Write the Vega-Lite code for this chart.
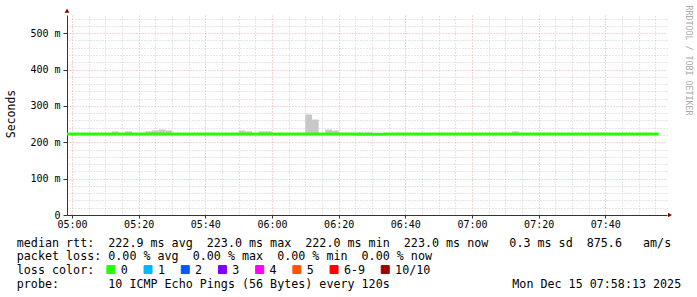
{
  "$schema": "https://vega.github.io/schema/vega-lite/v6.json",
  "width": 600,
  "height": 200,
  "autosize": "none",
  "padding": {"left": 67, "top": 15, "right": 30, "bottom": 82},
  "background": "white",
  "config": {"view": {"stroke": null}, "font": "DejaVu Sans Mono"},
  "datasets": {
    "rtt": [
      {"t": "2025-12-15T04:58:00Z", "rtt": 222.9, "loss": "0"},
      {"t": "2025-12-15T05:00:00Z", "rtt": 222.9, "loss": "0"},
      {"t": "2025-12-15T05:02:00Z", "rtt": 222.9, "loss": "0"},
      {"t": "2025-12-15T05:04:00Z", "rtt": 222.9, "loss": "0"},
      {"t": "2025-12-15T05:06:00Z", "rtt": 222.9, "loss": "0"},
      {"t": "2025-12-15T05:08:00Z", "rtt": 222.9, "loss": "0"},
      {"t": "2025-12-15T05:10:00Z", "rtt": 222.9, "loss": "0"},
      {"t": "2025-12-15T05:12:00Z", "rtt": 222.9, "loss": "0"},
      {"t": "2025-12-15T05:14:00Z", "rtt": 222.9, "loss": "0"},
      {"t": "2025-12-15T05:16:00Z", "rtt": 222.9, "loss": "0"},
      {"t": "2025-12-15T05:18:00Z", "rtt": 222.9, "loss": "0"},
      {"t": "2025-12-15T05:20:00Z", "rtt": 222.9, "loss": "0"},
      {"t": "2025-12-15T05:22:00Z", "rtt": 222.9, "loss": "0"},
      {"t": "2025-12-15T05:24:00Z", "rtt": 222.9, "loss": "0"},
      {"t": "2025-12-15T05:26:00Z", "rtt": 223.0, "loss": "0"},
      {"t": "2025-12-15T05:28:00Z", "rtt": 222.9, "loss": "0"},
      {"t": "2025-12-15T05:30:00Z", "rtt": 222.9, "loss": "0"},
      {"t": "2025-12-15T05:32:00Z", "rtt": 222.9, "loss": "0"},
      {"t": "2025-12-15T05:34:00Z", "rtt": 222.9, "loss": "0"},
      {"t": "2025-12-15T05:36:00Z", "rtt": 222.9, "loss": "0"},
      {"t": "2025-12-15T05:38:00Z", "rtt": 222.9, "loss": "0"},
      {"t": "2025-12-15T05:40:00Z", "rtt": 222.9, "loss": "0"},
      {"t": "2025-12-15T05:42:00Z", "rtt": 222.9, "loss": "0"},
      {"t": "2025-12-15T05:44:00Z", "rtt": 222.9, "loss": "0"},
      {"t": "2025-12-15T05:46:00Z", "rtt": 222.9, "loss": "0"},
      {"t": "2025-12-15T05:48:00Z", "rtt": 222.9, "loss": "0"},
      {"t": "2025-12-15T05:50:00Z", "rtt": 222.9, "loss": "0"},
      {"t": "2025-12-15T05:52:00Z", "rtt": 222.9, "loss": "0"},
      {"t": "2025-12-15T05:54:00Z", "rtt": 222.9, "loss": "0"},
      {"t": "2025-12-15T05:56:00Z", "rtt": 222.9, "loss": "0"},
      {"t": "2025-12-15T05:58:00Z", "rtt": 222.9, "loss": "0"},
      {"t": "2025-12-15T06:00:00Z", "rtt": 222.9, "loss": "0"},
      {"t": "2025-12-15T06:02:00Z", "rtt": 222.9, "loss": "0"},
      {"t": "2025-12-15T06:04:00Z", "rtt": 222.9, "loss": "0"},
      {"t": "2025-12-15T06:06:00Z", "rtt": 222.9, "loss": "0"},
      {"t": "2025-12-15T06:08:00Z", "rtt": 222.9, "loss": "0"},
      {"t": "2025-12-15T06:10:00Z", "rtt": 222.9, "loss": "0"},
      {"t": "2025-12-15T06:12:00Z", "rtt": 223.0, "loss": "0"},
      {"t": "2025-12-15T06:14:00Z", "rtt": 222.9, "loss": "0"},
      {"t": "2025-12-15T06:16:00Z", "rtt": 222.9, "loss": "0"},
      {"t": "2025-12-15T06:18:00Z", "rtt": 222.9, "loss": "0"},
      {"t": "2025-12-15T06:20:00Z", "rtt": 222.9, "loss": "0"},
      {"t": "2025-12-15T06:22:00Z", "rtt": 222.9, "loss": "0"},
      {"t": "2025-12-15T06:24:00Z", "rtt": 222.9, "loss": "0"},
      {"t": "2025-12-15T06:26:00Z", "rtt": 222.0, "loss": "0"},
      {"t": "2025-12-15T06:28:00Z", "rtt": 222.0, "loss": "0"},
      {"t": "2025-12-15T06:30:00Z", "rtt": 222.0, "loss": "0"},
      {"t": "2025-12-15T06:32:00Z", "rtt": 222.0, "loss": "0"},
      {"t": "2025-12-15T06:34:00Z", "rtt": 222.9, "loss": "0"},
      {"t": "2025-12-15T06:36:00Z", "rtt": 222.9, "loss": "0"},
      {"t": "2025-12-15T06:38:00Z", "rtt": 222.9, "loss": "0"},
      {"t": "2025-12-15T06:40:00Z", "rtt": 222.9, "loss": "0"},
      {"t": "2025-12-15T06:42:00Z", "rtt": 222.9, "loss": "0"},
      {"t": "2025-12-15T06:44:00Z", "rtt": 222.9, "loss": "0"},
      {"t": "2025-12-15T06:46:00Z", "rtt": 222.9, "loss": "0"},
      {"t": "2025-12-15T06:48:00Z", "rtt": 222.9, "loss": "0"},
      {"t": "2025-12-15T06:50:00Z", "rtt": 222.9, "loss": "0"},
      {"t": "2025-12-15T06:52:00Z", "rtt": 222.9, "loss": "0"},
      {"t": "2025-12-15T06:54:00Z", "rtt": 222.9, "loss": "0"},
      {"t": "2025-12-15T06:56:00Z", "rtt": 222.9, "loss": "0"},
      {"t": "2025-12-15T06:58:00Z", "rtt": 222.9, "loss": "0"},
      {"t": "2025-12-15T07:00:00Z", "rtt": 222.9, "loss": "0"},
      {"t": "2025-12-15T07:02:00Z", "rtt": 222.9, "loss": "0"},
      {"t": "2025-12-15T07:04:00Z", "rtt": 222.9, "loss": "0"},
      {"t": "2025-12-15T07:06:00Z", "rtt": 222.9, "loss": "0"},
      {"t": "2025-12-15T07:08:00Z", "rtt": 222.9, "loss": "0"},
      {"t": "2025-12-15T07:10:00Z", "rtt": 222.9, "loss": "0"},
      {"t": "2025-12-15T07:12:00Z", "rtt": 222.9, "loss": "0"},
      {"t": "2025-12-15T07:14:00Z", "rtt": 222.9, "loss": "0"},
      {"t": "2025-12-15T07:16:00Z", "rtt": 222.9, "loss": "0"},
      {"t": "2025-12-15T07:18:00Z", "rtt": 222.9, "loss": "0"},
      {"t": "2025-12-15T07:20:00Z", "rtt": 222.9, "loss": "0"},
      {"t": "2025-12-15T07:22:00Z", "rtt": 222.9, "loss": "0"},
      {"t": "2025-12-15T07:24:00Z", "rtt": 222.9, "loss": "0"},
      {"t": "2025-12-15T07:26:00Z", "rtt": 222.9, "loss": "0"},
      {"t": "2025-12-15T07:28:00Z", "rtt": 222.9, "loss": "0"},
      {"t": "2025-12-15T07:30:00Z", "rtt": 222.9, "loss": "0"},
      {"t": "2025-12-15T07:32:00Z", "rtt": 222.9, "loss": "0"},
      {"t": "2025-12-15T07:34:00Z", "rtt": 222.9, "loss": "0"},
      {"t": "2025-12-15T07:36:00Z", "rtt": 222.9, "loss": "0"},
      {"t": "2025-12-15T07:38:00Z", "rtt": 222.9, "loss": "0"},
      {"t": "2025-12-15T07:40:00Z", "rtt": 222.9, "loss": "0"},
      {"t": "2025-12-15T07:42:00Z", "rtt": 222.9, "loss": "0"},
      {"t": "2025-12-15T07:44:00Z", "rtt": 222.9, "loss": "0"},
      {"t": "2025-12-15T07:46:00Z", "rtt": 222.9, "loss": "0"},
      {"t": "2025-12-15T07:48:00Z", "rtt": 222.9, "loss": "0"},
      {"t": "2025-12-15T07:50:00Z", "rtt": 222.9, "loss": "0"},
      {"t": "2025-12-15T07:52:00Z", "rtt": 222.9, "loss": "0"},
      {"t": "2025-12-15T07:54:00Z", "rtt": 223.0, "loss": "0"},
      {"t": "2025-12-15T07:56:00Z", "rtt": 223.0, "loss": "0"}
    ],
    "smoke": [
      {"t": "2025-12-15T05:12:00Z", "t2": "2025-12-15T05:14:00Z", "lo": 222, "hi": 230, "band": "inner"},
      {"t": "2025-12-15T05:16:00Z", "t2": "2025-12-15T05:18:00Z", "lo": 222, "hi": 230, "band": "inner"},
      {"t": "2025-12-15T05:22:00Z", "t2": "2025-12-15T05:24:00Z", "lo": 222, "hi": 230, "band": "inner"},
      {"t": "2025-12-15T05:24:00Z", "t2": "2025-12-15T05:26:00Z", "lo": 222, "hi": 232.5, "band": "inner"},
      {"t": "2025-12-15T05:26:00Z", "t2": "2025-12-15T05:28:00Z", "lo": 222, "hi": 235, "band": "inner"},
      {"t": "2025-12-15T05:28:00Z", "t2": "2025-12-15T05:30:00Z", "lo": 222, "hi": 232.5, "band": "inner"},
      {"t": "2025-12-15T05:50:00Z", "t2": "2025-12-15T05:52:00Z", "lo": 222, "hi": 232.5, "band": "inner"},
      {"t": "2025-12-15T05:52:00Z", "t2": "2025-12-15T05:54:00Z", "lo": 222, "hi": 230, "band": "inner"},
      {"t": "2025-12-15T05:56:00Z", "t2": "2025-12-15T05:58:00Z", "lo": 222, "hi": 230, "band": "inner"},
      {"t": "2025-12-15T05:58:00Z", "t2": "2025-12-15T06:00:00Z", "lo": 222, "hi": 230, "band": "inner"},
      {"t": "2025-12-15T06:10:00Z", "t2": "2025-12-15T06:12:00Z", "lo": 222, "hi": 276.5, "band": "inner"},
      {"t": "2025-12-15T06:12:00Z", "t2": "2025-12-15T06:14:00Z", "lo": 222, "hi": 262.5, "band": "inner"},
      {"t": "2025-12-15T06:16:00Z", "t2": "2025-12-15T06:18:00Z", "lo": 222, "hi": 235, "band": "inner"},
      {"t": "2025-12-15T06:18:00Z", "t2": "2025-12-15T06:20:00Z", "lo": 222, "hi": 232.5, "band": "inner"},
      {"t": "2025-12-15T06:26:00Z", "t2": "2025-12-15T06:28:00Z", "lo": 221, "hi": 229, "band": "outer"},
      {"t": "2025-12-15T06:28:00Z", "t2": "2025-12-15T06:30:00Z", "lo": 221, "hi": 229, "band": "outer"},
      {"t": "2025-12-15T07:12:00Z", "t2": "2025-12-15T07:14:00Z", "lo": 222, "hi": 230, "band": "inner"}
    ]
  },
  "layer": [
    {
      "data": {"name": "smoke"},
      "mark": {"type": "rect", "clip": true},
      "encoding": {
        "x": {
          "field": "t", "type": "temporal",
          "scale": {"type": "utc", "domain": [1765774710000, 1765785510000]},
          "axis": {
            "orient": "top", "labels": false, "ticks": false, "domain": false,
            "grid": true, "gridColor": "#cccccc", "gridDash": [1, 2], "gridWidth": 1,
            "values": [1765775100000, 1765775400000, 1765775700000, 1765776300000, 1765776600000, 1765776900000, 1765777500000, 1765777800000, 1765778100000, 1765778700000, 1765779000000, 1765779300000, 1765779900000, 1765780200000, 1765780500000, 1765781100000, 1765781400000, 1765781700000, 1765782300000, 1765782600000, 1765782900000, 1765783500000, 1765783800000, 1765784100000, 1765784700000, 1765785000000, 1765785300000],
            "title": "Mon Dec 15 07:58:13 2025",
            "titleX": 613.7, "titleY": 272, "titleAlign": "right", "titleAnchor": null, "titleBaseline": "alphabetic",
            "titleFont": "DejaVu Sans Mono", "titleFontSize": 11.7, "titleFontWeight": "normal", "titleColor": "black"
          }
        },
        "x2": {"field": "t2"},
        "y": {
          "field": "lo", "type": "quantitative",
          "scale": {"domain": [0, 550], "nice": false, "zero": true},
          "axis": {
            "orient": "right", "labels": false, "ticks": false, "domain": false,
            "grid": true, "gridColor": "#cccccc", "gridDash": [1, 2], "gridWidth": 1,
            "values": [20, 40, 60, 80, 120, 140, 160, 180, 220, 240, 260, 280, 320, 340, 360, 380, 420, 440, 460, 480, 520, 540],
            "title": "RRDTOOL / TOBI OETIKER",
            "titleAngle": 90, "titleX": 20, "titleY": -10, "titleAlign": "left", "titleBaseline": "middle", "titleAnchor": null,
            "titleFont": "DejaVu Sans Mono", "titleFontSize": 8.3, "titleFontWeight": "normal", "titleColor": "#aaaaaa"
          }
        },
        "y2": {"field": "hi"},
        "fill": {
          "field": "band", "type": "nominal",
          "scale": {"domain": ["inner", "outer"], "range": ["#c8c8c8", "#dedede"]},
          "legend": null
        }
      }
    },
    {
      "data": {"name": "rtt"},
      "mark": {"type": "line", "interpolate": "step-after", "strokeWidth": 3, "strokeCap": "butt", "clip": true},
      "encoding": {
        "x": {
          "field": "t", "type": "temporal",
          "scale": {"type": "utc", "domain": [1765774710000, 1765785510000]},
          "axis": {
            "orient": "bottom",
            "values": [1765774800000, 1765776000000, 1765777200000, 1765778400000, 1765779600000, 1765780800000, 1765782000000, 1765783200000, 1765784400000],
            "labelExpr": "utcFormat(datum.value, '%H:%M')",
            "labelFont": "DejaVu Sans Mono", "labelFontSize": 10, "labelColor": "black", "labelPadding": 1,
            "tickSize": 3, "tickColor": "#333333", "domainColor": "#333333",
            "grid": true, "gridColor": "#e8a8a8", "gridDash": [1, 2], "gridWidth": 1,
            "title": [
              "median rtt:\u00a0\u00a0222.9 ms avg\u00a0\u00a0223.0 ms max\u00a0\u00a0222.0 ms min\u00a0\u00a0223.0 ms now\u00a0\u00a0\u00a00.3 ms sd\u00a0\u00a0875.6\u00a0\u00a0\u00a0am/s",
              "packet loss: 0.00 % avg\u00a0\u00a00.00 % max\u00a0\u00a00.00 % min\u00a0\u00a00.00 % now",
              "loss color:",
              "probe:\u00a0\u00a0\u00a0\u00a0\u00a0\u00a0\u00a010 ICMP Echo Pings (56 Bytes) every 120s"
            ],
            "titleX": -50.7, "titleY": 31.3, "titleAlign": "left", "titleAnchor": null, "titleBaseline": "alphabetic",
            "titleLineHeight": 13.6,
            "titleFont": "DejaVu Sans Mono", "titleFontSize": 11.7, "titleFontWeight": "normal", "titleColor": "black"
          }
        },
        "y": {
          "field": "rtt", "type": "quantitative",
          "scale": {"domain": [0, 550], "nice": false, "zero": true},
          "axis": {
            "orient": "left",
            "values": [0, 100, 200, 300, 400, 500],
            "labelExpr": "datum.value === 0 ? '0\u00a0\u00a0' : datum.value + ' m'",
            "labelFont": "DejaVu Sans Mono", "labelFontSize": 10, "labelColor": "black", "labelPadding": 3,
            "tickSize": 4, "tickColor": "#333333", "domainColor": "#333333",
            "grid": true, "gridColor": "#e8a8a8", "gridDash": [1, 2], "gridWidth": 1,
            "title": "Seconds",
            "titleAngle": 270, "titleX": -55.5, "titleY": 98.5, "titleAlign": "center", "titleBaseline": "middle", "titleAnchor": null,
            "titleFont": "DejaVu Sans Mono", "titleFontSize": 11.5, "titleFontWeight": "normal", "titleColor": "black"
          }
        },
        "color": {
          "field": "loss", "type": "nominal",
          "scale": {
            "domain": ["0", "1", "2", "3", "4", "5", "6-9", "10/10"],
            "range": ["#26ff00", "#00b8ff", "#0059ff", "#7e00ff", "#ff00ff", "#ff5500", "#ff0000", "#a10000"]
          },
          "legend": {
            "orient": "none", "legendX": 38, "legendY": 248.5, "direction": "horizontal",
            "title": null, "padding": 0,
            "symbolType": "square", "symbolSize": 64, "symbolStrokeWidth": 1, "symbolStrokeColor": "black",
            "labelFont": "DejaVu Sans Mono", "labelFontSize": 11.7, "labelColor": "black", "labelOffset": 4,
            "columnPadding": 13.2,
            "encode": {
              "symbols": {
                "update": {
                  "fill": {"scale": "color", "field": "value"},
                  "stroke": {"value": "black"},
                  "strokeWidth": {"value": 1},
                  "opacity": {"value": 1},
                  "fillOpacity": {"value": 1}
                }
              }
            }
          }
        }
      }
    },
    {
      "data": {"values": [{"arrow": "time axis"}]},
      "mark": {"type": "point", "shape": "triangle-right", "filled": true, "size": 22, "color": "#8b0000", "opacity": 1, "clip": false},
      "encoding": {
        "x": {"datum": 1765785564000, "type": "temporal", "scale": {"type": "utc", "domain": [1765774710000, 1765785510000]}, "axis": null},
        "y": {"datum": 0, "type": "quantitative", "scale": {"domain": [0, 550], "nice": false, "zero": true}, "axis": null}
      }
    },
    {
      "data": {"values": [{"arrow": "value axis"}]},
      "mark": {"type": "point", "shape": "triangle-up", "filled": true, "size": 22, "color": "#8b0000", "opacity": 1, "clip": false},
      "encoding": {
        "x": {"datum": 1765774710000, "type": "temporal", "scale": {"type": "utc", "domain": [1765774710000, 1765785510000]}, "axis": null},
        "y": {"datum": 562, "type": "quantitative", "scale": {"domain": [0, 550], "nice": false, "zero": true}, "axis": null}
      }
    }
  ],
  "resolve": {"axis": {"x": "independent", "y": "independent"}}
}
